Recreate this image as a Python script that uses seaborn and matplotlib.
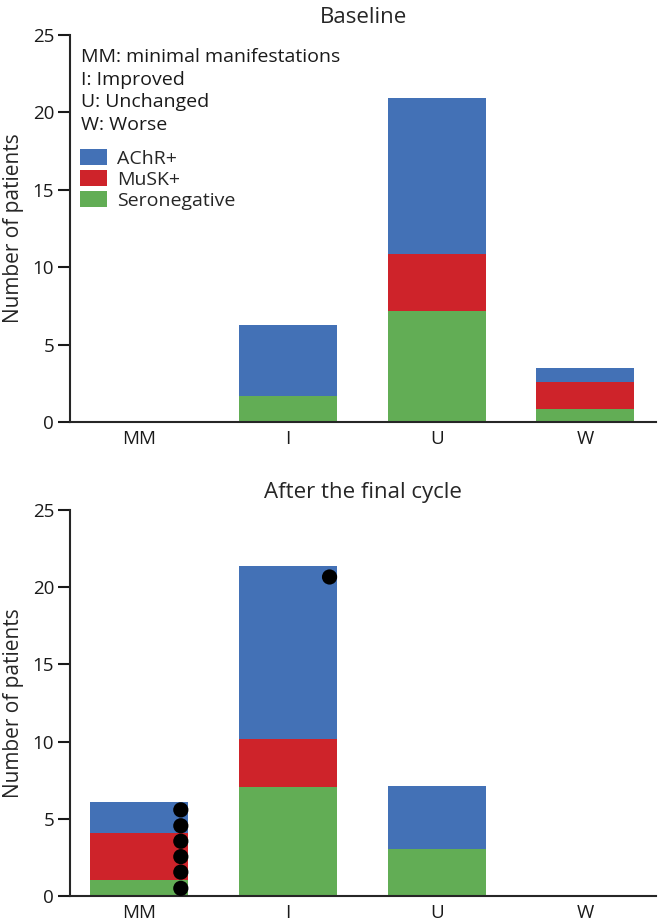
import seaborn as sns
import matplotlib.pyplot as plt
import pandas as pd
from matplotlib.patches import Patch

# categories and antibody groups
categories = ["MM", "I", "U", "W"]
groups = ["AChR+", "MuSK+", "Seronegative"]
key_lines = ["MM: minimal manifestations", "I: Improved", "U: Unchanged", "W: Worse"]

# baseline (segment heights)
base_achr = [0, 4.59, 10.04, 0.90]
base_musk = [0, 0, 3.68, 1.77]
base_sero = [0, 1.66, 7.18, 0.82]

# after the final cycle
final_achr = [2.00, 11.20, 4.10, 0]
final_musk = [3.06, 3.12, 0, 0]
final_sero = [1.02, 7.08, 3.04, 0]

# black dots on the final panel
dot_cat = ["MM", "MM", "MM", "MM", "MM", "MM", "I"]
dot_val = [0.50, 1.55, 2.55, 3.55, 4.55, 5.58, 20.66]

blue = "#4371B6"
red = "#CE232A"
green = "#62AD55"

sns.set_theme(style="ticks")
plt.rcParams['font.family'] = ['Open Sans', 'DejaVu Sans']
plt.rcParams['axes.linewidth'] = 1.5


def draw(ax, achr, musk, sero, title):
    df = pd.DataFrame({"cat": categories, "sero": sero, "musk": musk, "achr": achr})
    df["mid"] = df["sero"] + df["musk"]
    df["top"] = df["mid"] + df["achr"]
    # stack by overdrawing cumulative totals
    for col, c in [("top", blue), ("mid", red), ("sero", green)]:
        sns.barplot(data=df, x="cat", y=col, order=categories, color=c,
                    saturation=1, width=0.66, edgecolor="none", ax=ax)
    ax.set_xlim(-0.465, 3.475)
    ax.set_ylim(0, 25)
    ax.set_yticks([0, 5, 10, 15, 20, 25])
    ax.set_xlabel("")
    ax.set_ylabel("Number of patients", fontsize=15, labelpad=6.5)
    ax.set_title(title, fontsize=16, pad=8.5)
    sns.despine(ax=ax)
    ax.tick_params(axis="y", length=8.5, width=1.5, pad=3, labelsize=13.5, colors="#1a1a1a")
    ax.tick_params(axis="x", length=0, pad=6, labelsize=13.5, colors="#1a1a1a")


fig = plt.figure(figsize=(6.58, 9.21), dpi=100)
ax1 = fig.add_axes([0.1064, 0.5418, 0.8906, 0.4202])
ax2 = fig.add_axes([0.1064, 0.0271, 0.8906, 0.4192])

draw(ax1, base_achr, base_musk, base_sero, "Baseline")
draw(ax2, final_achr, final_musk, final_sero, "After the final cycle")

# key text
for i, line in enumerate(key_lines):
    ax1.text(0.019, 0.943 - i * 0.0587, line, transform=ax1.transAxes,
             fontsize=14, va="center", ha="left", color="#1a1a1a")

handles = [Patch(facecolor=c, edgecolor="none") for c in [blue, red, green]]
ax1.legend(handles, groups, loc="upper left", bbox_to_anchor=(0.017, 0.705),
           frameon=False, fontsize=14, handlelength=1.4, handleheight=0.85,
           handletextpad=0.5, labelspacing=0.13, borderpad=0, borderaxespad=0)

# dots
dot_x = [categories.index(c) + 0.28 for c in dot_cat]
sns.scatterplot(x=dot_x, y=dot_val, color="black", s=120, edgecolor="none",
                ax=ax2, legend=False, zorder=5)
ax2.set_xlim(-0.465, 3.475)
ax2.set_ylim(0, 25)

fig.savefig("out.png", dpi=100)
